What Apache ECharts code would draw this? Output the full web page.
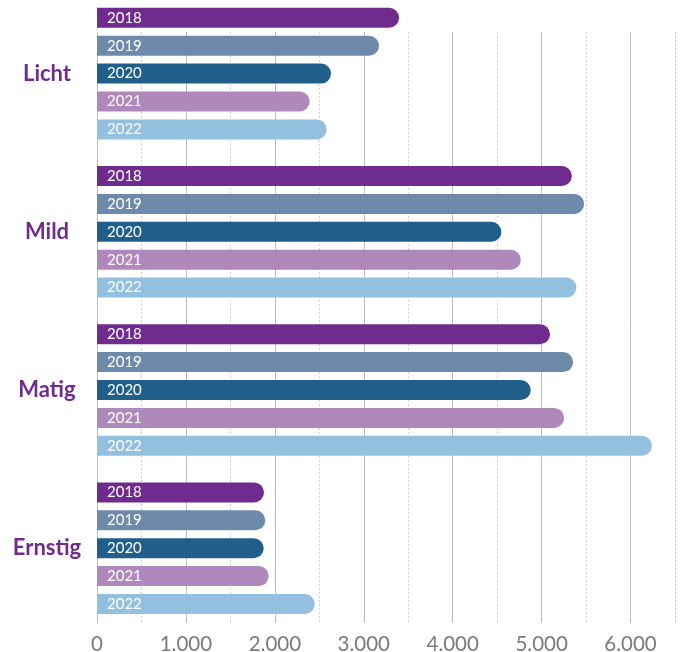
<!DOCTYPE html>
<html>
<head>
<meta charset="utf-8">
<script src="https://cdn.jsdelivr.net/npm/echarts@6/dist/echarts.min.js"></script>
<style>html,body{margin:0;padding:0;background:#fff}#c{width:684px;height:652px}</style>
</head>
<body>
<div id="c"></div>
<script>
const categories = ['Licht', 'Mild', 'Matig', 'Ernstig'];
const years = ['2018', '2019', '2020', '2021', '2022'];
const values2018 = [3397, 5340, 5095, 1878];
const values2019 = [3172, 5478, 5354, 1893];
const values2020 = [2632, 4548, 4878, 1875];
const values2021 = [2392, 4766, 5253, 1931];
const values2022 = [2583, 5391, 6240, 2449];
const tickLabels = ['0', '1.000', '2.000', '3.000', '4.000', '5.000', '6.000'];

const seriesValues = [values2018, values2019, values2020, values2021, values2022];
const colors = ['#6f2c8e', '#6e8aaa', '#1f5f8a', '#b089bc', '#94c0df'];

const chart = echarts.init(document.getElementById('c'));
const FONT = 'Lato';

chart.setOption({
  animation: false,
  textStyle: { fontFamily: FONT },
  grid: [
    { left: 97, right: 9, top: -5.5, bottom: 24.7, containLabel: false, outerBoundsMode: 'none' },
    { left: 97, right: 9, top: 32, bottom: 29, containLabel: false, outerBoundsMode: 'none' }
  ],
  xAxis: [
    { gridIndex: 0, type: 'value', min: 0, max: 6500, show: false },
    {
      gridIndex: 1, type: 'value', min: 0, max: 6500, interval: 500,
      axisLine: { show: false }, axisTick: { show: false },
      axisLabel: {
        margin: 11, fontSize: 20.5, color: '#7a7a7a', fontFamily: FONT,
        formatter: function (v) {
          return v % 1000 === 0 ? (tickLabels[v / 1000] || '') : '';
        }
      },
      splitLine: { show: true, lineStyle: { color: ['#bdbdbd', 'rgba(0,0,0,0)'], width: 1 } }
    },
    {
      gridIndex: 1, type: 'value', min: 0, max: 6500, interval: 500, position: 'bottom',
      axisLine: { show: false }, axisTick: { show: false }, axisLabel: { show: false },
      splitLine: { show: true, lineStyle: { color: ['rgba(0,0,0,0)', '#cfcfcf'], width: 1, type: [2, 2] } }
    }
  ],
  yAxis: [
    {
      gridIndex: 0, type: 'category', inverse: true, data: categories,
      axisLine: { show: false }, axisTick: { show: false },
      axisLabel: {
        margin: 50, align: 'center', fontSize: 22, fontWeight: 'bold',
        color: '#6f2c8e', fontFamily: FONT
      }
    },
    { gridIndex: 1, type: 'value', show: false }
  ],
  series: years.map(function (y, i) {
    return {
      name: y, type: 'bar', xAxisIndex: 0, yAxisIndex: 0,
      data: seriesValues[i], barWidth: 20, barGap: '39.5%',
      itemStyle: { color: colors[i], borderRadius: [0, 10, 10, 0] },
      label: {
        show: true, position: 'insideLeft', distance: 10,
        formatter: y, color: '#ffffff', fontSize: 15, fontFamily: FONT
      }
    };
  })
});
</script>
</body>
</html>
